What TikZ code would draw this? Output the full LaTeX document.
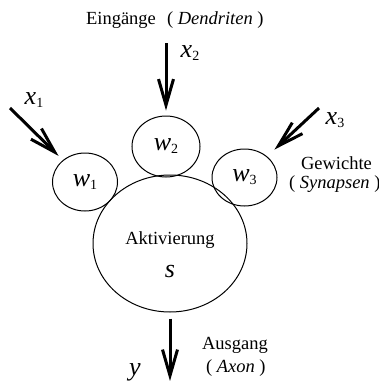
\documentclass[tikz,border=0pt]{standalone}
\usepackage{fontspec}
\setmainfont{Liberation Serif}
\usetikzlibrary{shapes.geometric,arrows.meta}
\newcommand{\var}[2]{{\fontsize{13}{13}\selectfont\textit{#1}\raisebox{-1.5pt}{\fontsize{7}{7}\selectfont #2}}}
\begin{document}
\begin{tikzpicture}[x=0.5pt,y=-0.5pt,font=\fontsize{9.25}{11}\selectfont,
	cell/.style={draw,ellipse,inner sep=0pt,line width=0.5pt},
	feed/.style={line width=1.5pt,-{Straight Barb[length=13pt,width=7.5pt]}}]
		\useasboundingbox (0,0) rectangle (379,381);
		
		\node[cell,minimum width=77pt,minimum height=68.5pt](act) at (170,243.5){};
		\node[cell,minimum width=32.5pt,minimum height=29pt](w1) at (85,182){\var{w}{1}};
		\node[cell,minimum width=34pt,minimum height=30.5pt](w2) at (166,146.5){\var{w}{2}};
		\node[cell,minimum width=32.5pt,minimum height=28.5pt](w3) at (244.5,177.5){\var{w}{3}};
		
		\node(akt) at (170,240){Aktivierung};
		\node(s) at (170,273){\var{s}{}};
		
		\coordinate(in1) at (10,108);
		\coordinate(in2) at (166,43);
		\coordinate(in3) at (319,108);
		\coordinate(out) at (170,381);
		
		\draw[feed,shorten >=3pt](in1)--(w1);
		\draw[feed,shorten >=2.5pt](in2)--(w2);
		\draw[feed,shorten >=5pt](in3)--(w3);
		\draw[feed,shorten <=3pt](act)--(out);
		
		\node(x1) at (34,100){\var{x}{1}};
		\node(x2) at (190,53){\var{x}{2}};
		\node(x3) at (335,120){\var{x}{3}};
		\node(y) at (135,372){\var{y}{}};
		
		\node[anchor=west](ein) at (79,20){Eingänge\hspace{0.6em}( \textit{Dendriten} )};
		\node[anchor=west](gew) at (294,163){Gewichte};
		\node[anchor=west](syn) at (282,184){( \textit{Synapsen} )};
		\node[anchor=west](aus) at (195,345){Ausgang};
		\node[anchor=west](axo) at (199,368){( \textit{Axon} )};
\end{tikzpicture}
\end{document}
